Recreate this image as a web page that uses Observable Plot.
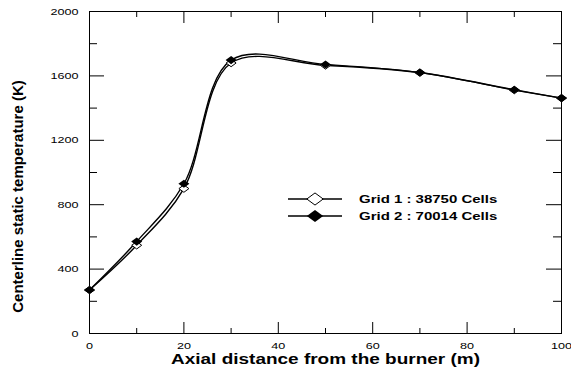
<!DOCTYPE html>
<html>
<head>
<meta charset="utf-8">
<script src="https://cdn.jsdelivr.net/npm/d3@7"></script>
<script src="https://cdn.jsdelivr.net/npm/@observablehq/plot@0.6"></script>
<style>
  html, body { margin: 0; padding: 0; background: #fff; }
  #wrap { position: relative; width: 571px; height: 369px; overflow: hidden; }
  #legend { position: absolute; left: 0; top: 0; pointer-events: none; }
</style>
</head>
<body>
<div id="wrap"></div>
<script>
// ---- data ----
const distance = [0, 10, 20, 30, 50, 70, 90, 100];
const grid1 = [270, 548, 900, 1680, 1665, 1620, 1512, 1462];
const grid2 = [270, 571, 930, 1698, 1671, 1621, 1514, 1462];
const seriesNames = ["Grid 1 : 38750 Cells", "Grid 2 : 70014 Cells"];
const xMajor = [0, 20, 40, 60, 80, 100];
const xMinor = [10, 30, 50, 70, 90];
const yMajor = [0, 400, 800, 1200, 1600, 2000];
const yMinor = [200, 600, 1000, 1400, 1800];
const xLabel = "Axial distance from the burner (m)";
const yLabel = "Centerline static temperature (K)";

const rows1 = distance.map((d, i) => ({x: d, y: grid1[i]}));
const rows2 = distance.map((d, i) => ({x: d, y: grid2[i]}));

// ---- layout ----
const W = 571, H = 369, mL = 89, mR = 10, mT = 11, mB = 36;
const pw = W - mL - mR, ph = H - mT - mB;
const squash = 0.77;
const font = "'Liberation Sans', Arial, sans-serif";

// wide-flat diamond symbol
const flatDiamond = {
  draw(ctx, size) {
    const r = Math.sqrt(size / Math.PI);
    const h = r * 0.74;
    ctx.moveTo(0, -h); ctx.lineTo(r, 0); ctx.lineTo(0, h); ctx.lineTo(-r, 0); ctx.closePath();
  }
};

const curve = "catmull-rom";

const chart = Plot.plot({
  width: W, height: H,
  marginLeft: mL, marginRight: mR, marginTop: mT, marginBottom: mB,
  style: {fontFamily: font, background: "white", color: "black"},
  x: {domain: [0, 100]},
  y: {domain: [0, 2000]},
  marks: [
    // ticks (inward, mirrored)
    Plot.tickY(yMajor, {y: d => d, insetRight: pw - 15, stroke: "black"}),
    Plot.tickY(yMajor, {y: d => d, insetLeft: pw - 15, stroke: "black"}),
    Plot.tickY(yMinor, {y: d => d, insetRight: pw - 8, stroke: "black"}),
    Plot.tickY(yMinor, {y: d => d, insetLeft: pw - 8, stroke: "black"}),
    Plot.tickX(xMajor, {x: d => d, insetTop: ph - 11, stroke: "black"}),
    Plot.tickX(xMajor, {x: d => d, insetBottom: ph - 12, stroke: "black"}),
    Plot.tickX(xMinor, {x: d => d, insetTop: ph - 5, stroke: "black"}),
    Plot.tickX(xMinor, {x: d => d, insetBottom: ph - 6, stroke: "black"}),
    Plot.frame({stroke: "black", strokeWidth: 1}),
    Plot.axisY({ticks: yMajor, tickSize: 0, tickPadding: 11, fontSize: 12.6, label: null, tickFormat: d => String(d)}),
    Plot.axisX({ticks: xMajor, tickSize: 0, tickPadding: 7.5, fontSize: 12.6, label: null, tickFormat: d => String(d)}),
    // lines
    Plot.line(rows1, {x: "x", y: "y", curve, stroke: "black", strokeWidth: 1.4}),
    Plot.line(rows2, {x: "x", y: "y", curve, stroke: "black", strokeWidth: 1.4}),
    Plot.dot(rows1, {x: "x", y: "y", symbol: flatDiamond, r: 5, fill: "white", stroke: "black", strokeWidth: 1}),
    Plot.dot(rows2, {x: "x", y: "y", symbol: flatDiamond, r: 5.5, fill: "black", stroke: "none"}),
    // axis titles
    Plot.text([xLabel], {text: d => d, frameAnchor: "bottom", dy: 26, fontSize: 19, fontWeight: "bold", lineAnchor: "middle"}),
    Plot.text([yLabel], {text: d => d, frameAnchor: "left", textAnchor: "middle", rotate: -90, dx: -71, dy: 24, fontSize: 15, fontWeight: "bold", lineAnchor: "middle"})
  ]
});

const wrap = document.getElementById("wrap");
wrap.appendChild(chart);

// squash horizontal texts vertically (reference text is wide/flat)
chart.querySelectorAll("text").forEach(t => {
  const tr = t.getAttribute("transform") || "";
  if (tr.includes("rotate")) return;
  const b = t.getBBox();
  const cx = b.x + b.width / 2, cy = b.y + b.height / 2;
  t.setAttribute("transform", `${tr} translate(${cx},${cy}) scale(1,${squash}) translate(${-cx},${-cy})`);
});

// legend overlay
const lg = d3.select(wrap).append("svg").attr("id", "legend").attr("width", W).attr("height", H);
const legendRows = [
  {name: seriesNames[0], fill: "white", stroke: "black", y: 199},
  {name: seriesNames[1], fill: "black", stroke: "none", y: 216}
];
const symPath = d3.symbol().type(flatDiamond).size(Math.PI * 8.2 * 8.2)();
legendRows.forEach(r => {
  const g = lg.append("g");
  g.append("line").attr("x1", 288).attr("x2", 342).attr("y1", r.y).attr("y2", r.y)
    .attr("stroke", "black").attr("stroke-width", 1.4);
  g.append("path").attr("d", symPath).attr("transform", `translate(315,${r.y})`)
    .attr("fill", r.fill).attr("stroke", r.stroke).attr("stroke-width", 1);
  g.append("text").attr("x", 359).attr("y", r.y).attr("dy", "0.35em")
    .attr("font-family", font).attr("font-size", 15).attr("font-weight", "bold")
    .attr("transform", `translate(0,${r.y}) scale(1,${squash}) translate(0,${-r.y})`)
    .text(r.name);
});
</script>
</body>
</html>
